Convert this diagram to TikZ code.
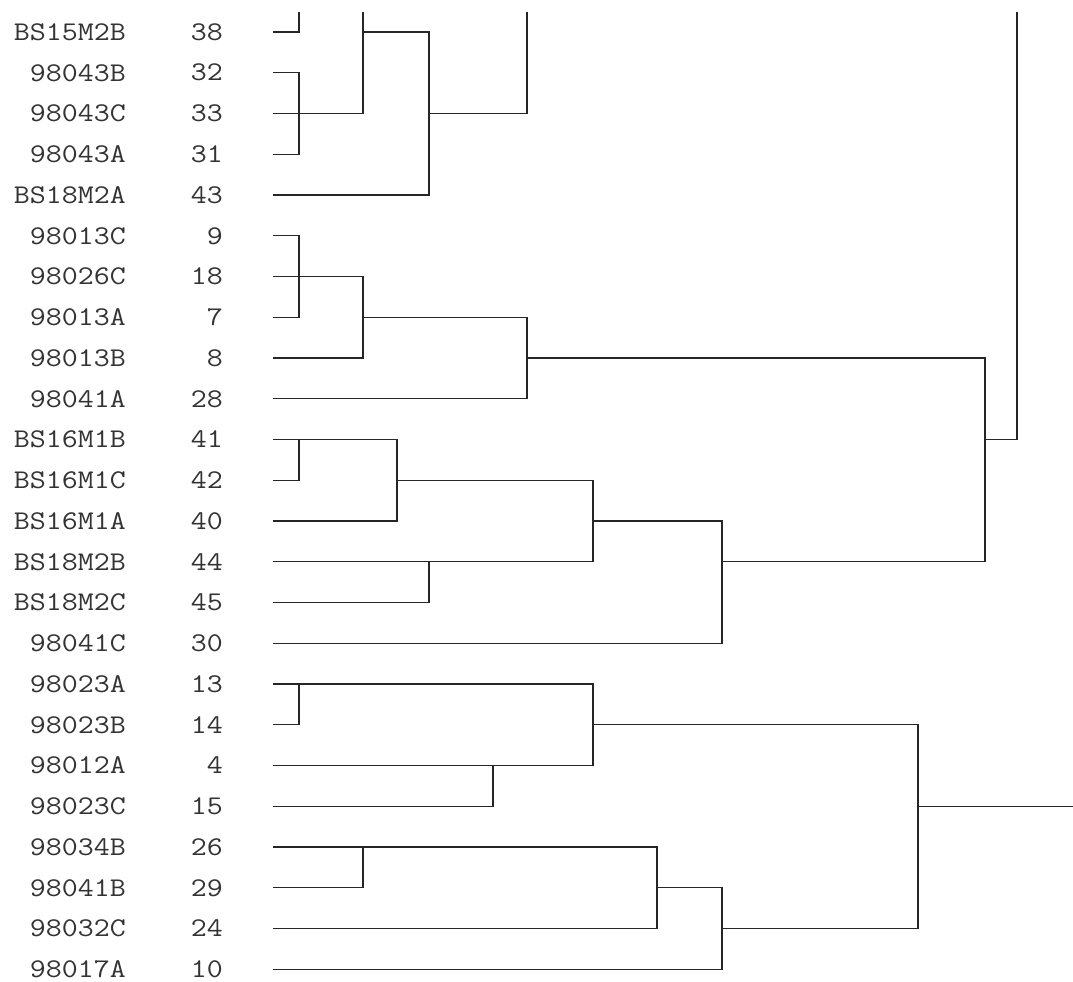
\documentclass[tikz,border=0pt]{standalone}
\usepackage{fontspec}
\begin{document}
\begin{tikzpicture}[x=1pt,y=-1pt,
  link/.style={line width=1.3pt, black!85},
  lab/.style={anchor=east, inner sep=0pt, text=black!80, xscale=1.15,
              font=\ttfamily\fontsize{27}{27}\selectfont}]
\useasboundingbox (0,0) rectangle (1073,982);

% leaf labels, numbers and leaf end points
\foreach \n/\id [count=\i from 0] in {BS15M2B/38, 98043B/32, 98043C/33, 98043A/31,
    BS18M2A/43, 98013C/9, 98026C/18, 98013A/7, 98013B/8, 98041A/28,
    BS16M1B/41, BS16M1C/42, BS16M1A/40, BS18M2B/44, BS18M2C/45, 98041C/30,
    98023A/13, 98023B/14, 98012A/4, 98023C/15, 98034B/26, 98041B/29,
    98032C/24, 98017A/10} {
  \pgfmathsetmacro\yy{32+40.75*\i}
  \node[lab] (n\id) at (126,\yy) {\n};
  \node[lab] (k\id) at (223,\yy) {\id};
  \coordinate (e\id) at (273,\yy);
}

% heights of the joins
\coordinate (top) at (0,12);
\coordinate (x1) at (299,0);
\coordinate (x2) at (363,0);
\coordinate (x3) at (397,0);
\coordinate (x4) at (429,0);
\coordinate (x5) at (493,0);
\coordinate (x6) at (527,0);
\coordinate (x7) at (593,0);
\coordinate (x8) at (657,0);
\coordinate (x9) at (722,0);
\coordinate (x10) at (918,0);
\coordinate (x11) at (985,0);
\coordinate (x12) at (1017,0);
\coordinate (xr) at (1073,0);

% upper group
\draw[link] (top -| x1) |- (e38);
\draw[link] (e32) -| (e31 -| x1) -- (e31);
\draw[link] (e33) -- (e33 -| x2);
\draw[link] (top -| x2) -- (e33 -| x2);
\draw[link] (e38 -| x2) -| (e43 -| x4) -- (e43);
\draw[link] (e33 -| x4) -| (top -| x6);

\draw[link] (e9) -| (e7 -| x1) -- (e7);
\draw[link] (e18) -| (e8 -| x2) -- (e8);
\draw[link] (e7 -| x2) -| (e28 -| x6) -- (e28);
\draw[link] (e8 -| x6) -| (e44 -| x11);
\draw[link] (e41 -| x11) -| (top -| x12);

\draw[link] (e41) -| (e40 -| x3) -- (e40);
\draw[link] (e41 -| x1) |- (e42);
\draw[link] (e42 -| x3) -| (e44 -| x7) -- (e44);
\draw[link] (e44 -| x4) |- (e45);
\draw[link] (e40 -| x7) -| (e30 -| x9) -- (e30);
\draw[link] (e44 -| x9) -- (e44 -| x11);

% lower group
\draw[link] (e13) -| (e4 -| x7) -- (e4);
\draw[link] (e13 -| x1) |- (e14);
\draw[link] (e4 -| x5) |- (e15);
\draw[link] (e14 -| x7) -| (e24 -| x10) -- (e24 -| x9);
\draw[link] (e26) -| (e24 -| x8) -- (e24);
\draw[link] (e26 -| x2) |- (e29);
\draw[link] (e29 -| x8) -| (e10 -| x9) -- (e10);
\draw[link] (e15 -| x10) -- (e15 -| xr);
\end{tikzpicture}
\end{document}
